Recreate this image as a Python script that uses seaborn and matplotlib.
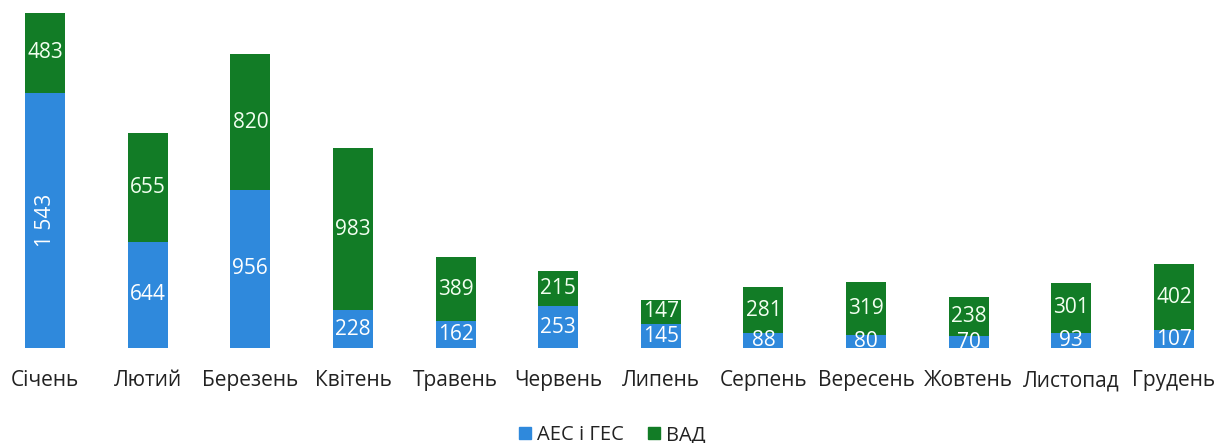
import numpy as np
import pandas as pd
import seaborn as sns
from matplotlib import pyplot as plt
from matplotlib.patches import Patch

months = ['Січень', 'Лютий', 'Березень', 'Квітень', 'Травень', 'Червень',
          'Липень', 'Серпень', 'Вересень', 'Жовтень', 'Листопад', 'Грудень']
aes_ges = [1543, 644, 956, 228, 162, 253, 145, 88, 80, 70, 93, 107]
vad = [483, 655, 820, 983, 389, 215, 147, 281, 319, 238, 301, 402]

blue = '#2F89DC'
green = '#127C26'

sns.set_theme(style='white')
plt.rcParams['font.family'] = ['Open Sans', 'DejaVu Sans']

fig = plt.figure(figsize=(12.18, 4.43), dpi=100)
ax = fig.add_axes([0, 95 / 443, 1, 348 / 443])

sns.barplot(x=months, y=aes_ges, color=blue, width=0.39, saturation=1,
            linewidth=0, ax=ax)
sns.barplot(x=months, y=vad, bottom=aes_ges, color=green, width=0.39, saturation=1,
            linewidth=0, ax=ax)

def fmt(v):
    return '{:,}'.format(v).replace(',', ' ')

for i in range(len(months)):
    a = aes_ges[i]
    b = vad[i]
    rot = 90 if a > 1000 else 0
    ax.text(i, a / 2, fmt(a), ha='center', va='center', color='white',
            fontsize=15, rotation=rot)
    ax.text(i, a + b / 2, fmt(b), ha='center', va='center', color='#F2FFF0',
            fontsize=15)

ax.set_xlim(-0.44, 11.43)
ax.set_ylim(0, 2026 * 348 / 335)
ax.set_yticks([])
ax.tick_params(axis='x', length=0, pad=16, labelsize=15, colors='#222222')
sns.despine(left=True, bottom=True)

handles = [Patch(color=blue, label='АЕС і ГЕС'), Patch(color=green, label='ВАД')]
fig.legend(handles=handles, loc='center', bbox_to_anchor=(612 / 1218, 1 - 435 / 443),
           ncol=2, frameon=False, fontsize=14.5, handlelength=0.6, handleheight=0.6,
           handletextpad=0.3, columnspacing=1.2, labelcolor='#222222')

plt.savefig('out.png', dpi=100)
